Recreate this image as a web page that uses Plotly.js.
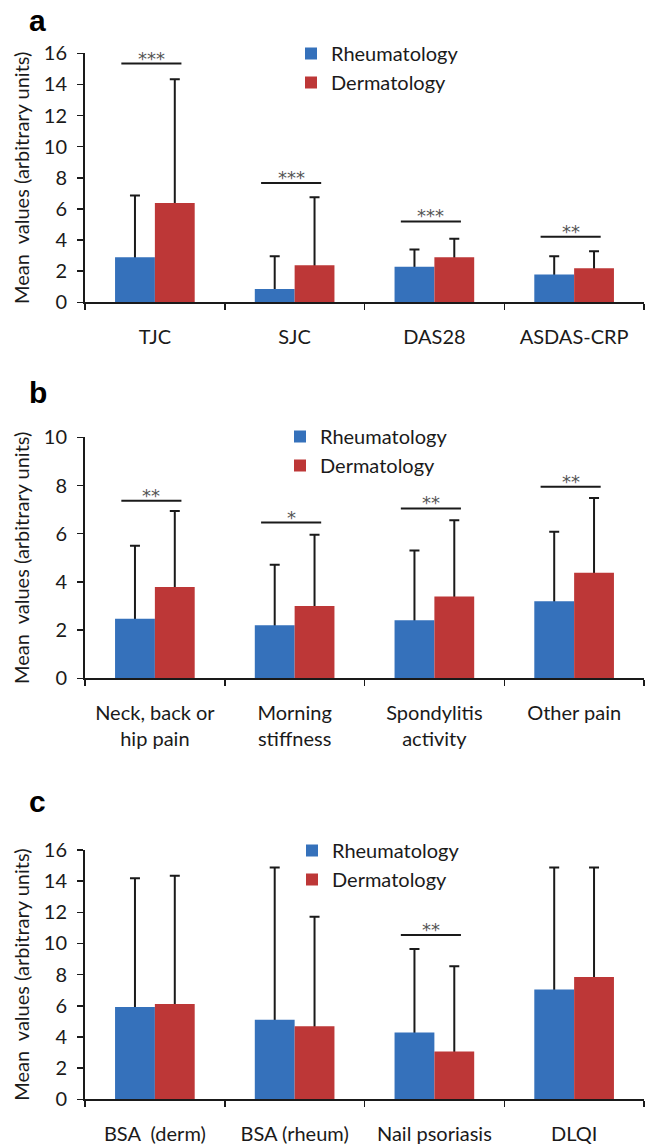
<!DOCTYPE html>
<html>
<head>
<meta charset="utf-8">
<script src="https://cdn.plot.ly/plotly-3.0.1.min.js"></script>
<style>html,body{margin:0;padding:0;background:#fff}#chart{width:649px;height:1144px}</style>
</head>
<body>
<div id="chart"></div>
<script>
// ---------- DATA ----------
const seriesNames = ['Rheumatology', 'Dermatology'];

// Panel a
const catsA = ['TJC', 'SJC', 'DAS28', 'ASDAS-CRP'];
const rheumA = [2.9, 0.85, 2.29, 1.78];
const rheumSdA = [3.96, 2.11, 1.10, 1.18];
const dermA = [6.38, 2.38, 2.89, 2.19];
const dermSdA = [7.95, 4.37, 1.20, 1.09];
const sigA = ['***', '***', '***', '**'];
const sigLevelA = [15.34, 7.67, 5.2, 4.22];

// Panel b
const catsB = ['Neck, back or<br>hip pain', 'Morning<br>stiffness', 'Spondylitis<br>activity', 'Other pain'];
const rheumB = [2.47, 2.2, 2.41, 3.2];
const rheumSdB = [3.03, 2.51, 2.89, 2.88];
const dermB = [3.79, 3.0, 3.39, 4.38];
const dermSdB = [3.15, 2.96, 3.17, 3.10];
const sigB = ['**', '*', '**', '**'];
const sigLevelB = [7.37, 6.46, 7.05, 7.95];

// Panel c
const catsC = ['BSA\u00a0 (derm)', 'BSA (rheum)', 'Nail psoriasis', 'DLQI'];
const rheumC = [5.92, 5.11, 4.28, 7.04];
const rheumSdC = [8.26, 9.76, 5.37, 7.83];
const dermC = [6.12, 4.69, 3.06, 7.85];
const dermSdC = [8.23, 7.03, 5.48, 7.02];
const sigC = ['', '', '**', ''];
const sigLevelC = [null, null, 10.55, null];

const panelLetters = ['a', 'b', 'c'];
const yTitle = 'Mean\u00a0 values (arbitrary units)';

// ---------- STYLE / LAYOUT ----------
const W = 649, H = 1144;
const FONT = 'Lato, "Open Sans", "Liberation Sans", sans-serif';
const BLUE = '#3571bb';
const RED = '#bd3737';
const INK = '#1a1a1a';
const px = v => v / W;
const py = v => 1 - v / H;

const panels = [
  {cats: catsA, r: rheumA, rs: rheumSdA, d: dermA, ds: dermSdA, sig: sigA, lvl: sigLevelA,
   ymax: 16, top: 53.3, bot: 302.3, legX: 291, legY: 34, letterY: 21},
  {cats: catsB, r: rheumB, rs: rheumSdB, d: dermB, ds: dermSdB, sig: sigB, lvl: sigLevelB,
   ymax: 10, top: 437.3, bot: 678.3, legX: 280, legY: 417, letterY: 392},
  {cats: catsC, r: rheumC, rs: rheumSdC, d: dermC, ds: dermSdC, sig: sigC, lvl: sigLevelC,
   ymax: 16, top: 850, bot: 1099.3, legX: 292, legY: 831, letterY: 801}
];

const traces = [];
const shapes = [];
const annotations = [];
const layout = {
  width: W, height: H,
  margin: {l: 0, r: 0, t: 0, b: 0},
  paper_bgcolor: '#fff', plot_bgcolor: '#fff',
  barmode: 'group', bargap: 0.43, bargroupgap: 0,
  font: {family: FONT, size: 20, color: INK},
  showlegend: true,
  shapes: shapes, annotations: annotations
};

panels.forEach((p, k) => {
  const n = k === 0 ? '' : String(k + 1);
  const xa = 'x' + n, ya = 'y' + n;
  const leg = 'legend' + n;
  const idx = p.cats.map((_, i) => i);

  // error-bar carriers (drawn first, covered by the solid bars)
  [[p.r, p.rs, 'r'], [p.d, p.ds, 'd']].forEach(([vals, sd, g]) => {
    traces.push({
      type: 'bar', x: idx, y: vals, xaxis: xa, yaxis: ya, offsetgroup: g,
      marker: {color: 'rgba(0,0,0,0)'}, showlegend: false, hoverinfo: 'skip',
      error_y: {type: 'data', symmetric: false, array: sd, arrayminus: vals,
                color: INK, thickness: 2, width: 5}
    });
  });
  // solid bars
  [[p.r, seriesNames[0], BLUE, 'r'], [p.d, seriesNames[1], RED, 'd']].forEach(([vals, name, col, g]) => {
    traces.push({
      type: 'bar', x: idx, y: vals, xaxis: xa, yaxis: ya, offsetgroup: g,
      name: name, legend: leg, marker: {color: col, line: {width: 0}}
    });
  });

  layout['xaxis' + n] = {
    domain: [px(85), px(644)], anchor: ya, type: 'linear',
    range: [-0.5, 3.5], tickmode: 'array', tickvals: idx, ticktext: p.cats,
    showline: true, linecolor: INK, linewidth: 2,
    ticks: '', showgrid: false, zeroline: false,
    tickfont: {family: FONT, size: 20, color: INK},
    ticklabelstandoff: 16, fixedrange: true,
    minor: {tickmode: 'array', tickvals: [-0.5, 0.5, 1.5, 2.5, 3.5],
            ticks: 'outside', ticklen: 6, tickwidth: 1.5, tickcolor: INK, showgrid: false}
  };

  layout['yaxis' + n] = {
    domain: [py(p.bot), py(p.top)], anchor: xa,
    range: [0, p.ymax], dtick: 2, tick0: 0,
    showline: true, linecolor: INK, linewidth: 2,
    ticks: 'outside', ticklen: 6, tickwidth: 1.5, tickcolor: INK,
    showgrid: false, zeroline: false,
    tickfont: {family: FONT, size: 20, color: INK},
    ticklabelstandoff: 6,
    title: {text: yTitle, font: {family: FONT, size: 20, color: INK}, standoff: 9},
    fixedrange: true
  };

  layout[leg] = {
    x: px(p.legX), y: py(p.legY), xanchor: 'left', yanchor: 'top',
    bgcolor: 'rgba(0,0,0,0)', borderwidth: 0,
    font: {family: FONT, size: 20, color: INK}, tracegroupgap: 0
  };

  // significance brackets
  p.sig.forEach((s, i) => {
    if (!s) return;
    shapes.push({type: 'line', xref: xa, yref: ya, x0: i - 0.24, x1: i + 0.19,
                 y0: p.lvl[i], y1: p.lvl[i], line: {color: INK, width: 2}});
    annotations.push({xref: xa, yref: ya, x: i - 0.025, y: p.lvl[i], text: s,
                      showarrow: false, xanchor: 'center', yanchor: 'bottom', yshift: -7,
                      font: {family: '"DejaVu Sans", sans-serif', size: 18, color: '#555'}});
  });

  // panel letter
  annotations.push({xref: 'paper', yref: 'paper', x: px(27), y: py(p.letterY),
                    xanchor: 'left', yanchor: 'middle', showarrow: false, text: '<b>' + panelLetters[k] + '</b>',
                    font: {family: '"Liberation Sans", Arial, sans-serif', size: 30, color: '#000'}});
});

Plotly.newPlot('chart', traces, layout, {staticPlot: true});
</script>
</body>
</html>
